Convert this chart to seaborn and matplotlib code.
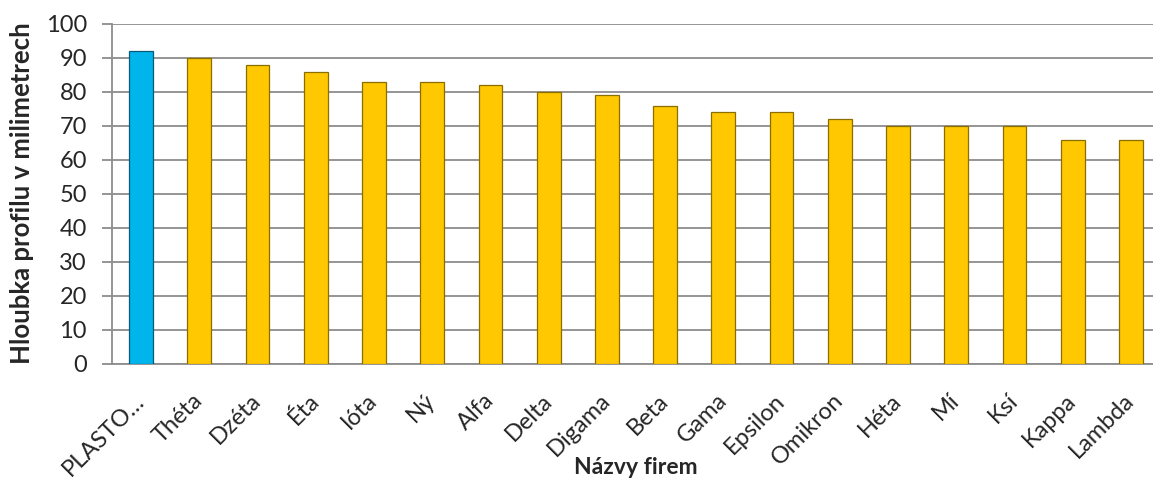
import numpy as np
import pandas as pd
import seaborn as sns
import matplotlib.pyplot as plt

firms = ['PLASTO…', 'Théta', 'Dzéta', 'Éta', 'Ióta', 'Ný', 'Alfa', 'Delta', 'Digama',
         'Beta', 'Gama', 'Epsilon', 'Omikron', 'Héta', 'Mí', 'Ksí', 'Kappa', 'Lambda']
depth = [92, 90, 88, 86, 83, 83, 82, 80, 79, 76, 74, 74, 72, 70, 70, 70, 66, 66]

df = pd.DataFrame({'firma': firms, 'hloubka': depth})
colors = {f: '#FFC800' for f in firms}
colors['PLASTO…'] = '#00B4EC'

sns.set_style('white')
plt.rcParams['font.family'] = ['Lato', 'DejaVu Sans']

fig = plt.figure(figsize=(11.53, 4.8), dpi=100)
# axes runs a bit past the right edge, like the original
ax = fig.add_axes([112 / 1153, 116 / 480, 1048 / 1153, 340 / 480])

sns.barplot(data=df, x='firma', y='hloubka', hue='firma', palette=colors, saturation=1,
            width=0.41, edgecolor='#8a6e00', linewidth=0.9, legend=False, ax=ax, zorder=3)
ax.patches[0].set_edgecolor('#0a5a78')

ax.set_ylim(0, 100)
ax.set_yticks(range(0, 101, 10))
ax.set_xlim(-0.5, len(firms) - 0.5)
ax.grid(axis='y', color='#8c8c8c', linewidth=1.3, zorder=0)
for s in ['top', 'right']:
    ax.spines[s].set_visible(False)
ax.spines['left'].set_color('#8c8c8c')
ax.spines['bottom'].set_color('#8c8c8c')
ax.spines['left'].set_linewidth(1.3)
ax.spines['bottom'].set_linewidth(1.3)

ax.set_xticks(np.arange(len(firms)))
ax.set_xticklabels(firms, rotation=45, ha='right', va='center', rotation_mode='anchor', fontsize=17)
ax.tick_params(axis='x', length=0, pad=24)
ax.set_xticks(np.arange(-0.5, len(firms), 1), minor=True)
ax.tick_params(axis='x', which='minor', length=7, color='#8c8c8c', width=1.3)
ax.tick_params(axis='y', labelsize=17, length=7, color='#8c8c8c', width=1.3, left=True, pad=11)

ax.set_xlabel('')
ax.set_ylabel('')
fig.text(636 / 1153, 12 / 480, 'Názvy firem', fontsize=16.5, fontweight='bold',
         ha='center', va='center')
fig.text(22 / 1153, 1 - 193 / 480, 'Hloubka profilu v milimetrech', fontsize=18.5, fontweight='bold',
         rotation=90, ha='center', va='center')

fig.savefig('out.png', dpi=100)
